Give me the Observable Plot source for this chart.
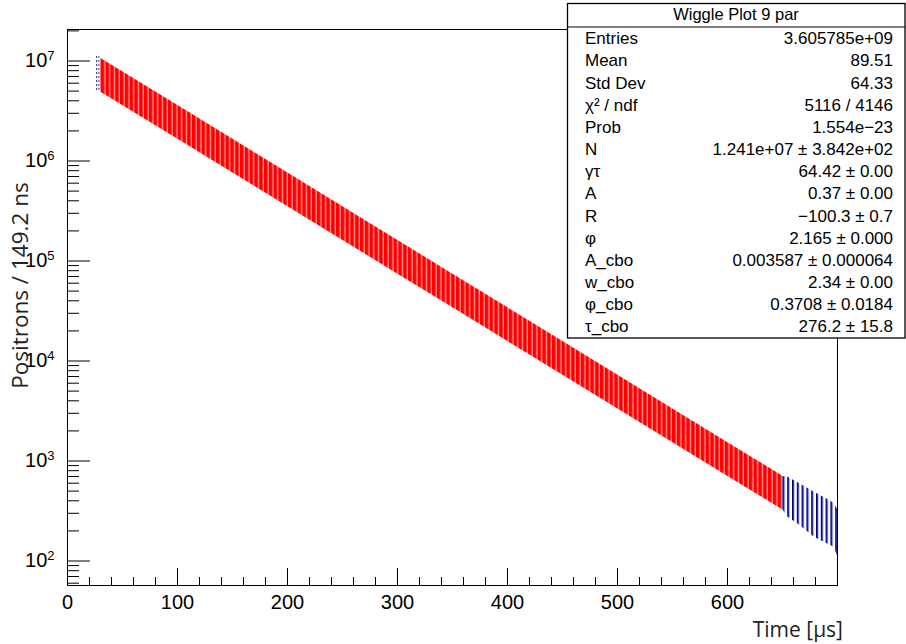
<!DOCTYPE html>
<html><head><meta charset="utf-8">
<script src="https://cdn.jsdelivr.net/npm/d3@7"></script>
<script src="https://cdn.jsdelivr.net/npm/@observablehq/plot@0.6"></script>
<style>html,body{margin:0;padding:0;background:#fff;}</style>
</head><body><div id="chart"></div>
<script>
// ---- data ----
// fitted wiggle function band (upper = peaks, lower = troughs)
const fitTime = [30, 100, 150, 200, 250, 300, 350, 400, 450, 500, 550, 600, 650];
const fitHigh = [1.067e7, 3.60e6, 1.657e6, 7.63e5, 3.51e5, 1.615e5, 7.43e4, 3.42e4, 1.574e4, 7243, 3329, 1532, 707];
const fitLow  = [4.91e6, 1.656e6, 7.62e5, 3.51e5, 1.614e5, 7.43e4, 3.42e4, 1.573e4, 7240, 3331, 1531, 704, 325];
// histogram outside the fit range
const earlyTime = [26, 30];
const earlyHigh = [1.13e7, 1.10e7];
const earlyLow  = [4.9e6, 4.85e6];
const tailTime = [650, 655, 665, 679, 690, 697, 700];
const tailHigh = [700, 689, 600, 488, 420, 376, 330];
const tailLow  = [330, 274, 230, 173, 150, 137, 113];
// axes
const xMajor = [0, 100, 200, 300, 400, 500, 600, 700];
const xLabels = [0, 100, 200, 300, 400, 500, 600];
const xMinor = [20,40,60,80,120,140,160,180,220,240,260,280,320,340,360,380,420,440,460,480,520,540,560,580,620,640,660,680];
const yMajor = [1e2, 1e3, 1e4, 1e5, 1e6, 1e7];
const yMinorMantissa = [2, 3, 4, 5, 6, 7, 8, 9];
const yMinorDecades = [1e1, 1e2, 1e3, 1e4, 1e5, 1e6, 1e7];
const yMinor = yMinorDecades.flatMap(d => yMinorMantissa.map(m => m * d)).filter(v => v >= 57 && v <= 2.06e7);
// stats box
const statsTitle = "Wiggle Plot 9 par";
const statLabels = ["Entries", "Mean", "Std Dev", "χ² / ndf", "Prob", "N", "γτ", "A", "R", "φ", "A_cbo", "w_cbo", "φ_cbo", "τ_cbo"];
const statValues = ["3.605785e+09", "89.51", "64.33", "5116 / 4146", "1.554e−23", "1.241e+07 ± 3.842e+02", "64.42 ± 0.00", "0.37 ± 0.00", "−100.3 ± 0.7", "2.165 ± 0.000", "0.003587 ± 0.000064", "2.34 ± 0.00", "0.3708 ± 0.0184", "276.2 ± 15.8"];
const xTitle = "Time [μs]";
const yTitle = "Positrons / 149.2 ns";

const rows = (T, H, L) => T.map((t, i) => ({t, hi: H[i], lo: L[i]}));
const fitRows = rows(fitTime, fitHigh, fitLow);
const earlyRows = rows(earlyTime, earlyHigh, earlyLow);
const tailRows = rows(tailTime, tailHigh, tailLow);

const W = 906, H = 644;
const plot = Plot.plot({
  width: W, height: H,
  marginLeft: 67, marginRight: 69, marginTop: 29, marginBottom: 59,
  x: {domain: [0, 700]},
  y: {type: "log", domain: [56.9, 2.065e7]},
  style: {fontFamily: "'Liberation Sans', Arial, sans-serif", background: "white", color: "black"},
  marks: [
    Plot.areaY(earlyRows, {x: "t", y1: "lo", y2: "hi", fill: "url(#dataStripesThin)"}),
    Plot.areaY(tailRows, {x: "t", y1: "lo", y2: "hi", fill: "url(#dataStripes)"}),
    Plot.areaY(fitRows, {x: "t", y1: "lo", y2: "hi", fill: "url(#fitStripes)"}),
    Plot.axisX(xMajor, {tickSize: -17, fill: "none", label: null}),
    Plot.axisX(xMinor, {tickSize: -8, fill: "none", label: null}),
    Plot.axisX(xLabels, {tickSize: 0, tickPadding: 9, tickFormat: d => String(d), fontSize: 20, label: null}),
    Plot.axisY(yMajor, {tickSize: -23, fill: "none", label: null}),
    Plot.axisY(yMinor, {tickSize: -12, fill: "none", label: null}),
    Plot.axisY(yMajor, {tickSize: 0, tickPadding: 13, tickFormat: d => "10^" + Math.round(Math.log10(d)), fontSize: 20, label: null}),
    Plot.frame({stroke: "black", strokeWidth: 1})
  ]
});
document.getElementById("chart").appendChild(plot);

const svg = d3.select(plot);
// stripe patterns (style only)
const defs = svg.insert("defs", ":first-child");
const p1 = defs.append("pattern").attr("id", "fitStripes").attr("patternUnits", "userSpaceOnUse")
  .attr("width", 4.8).attr("height", 20);
p1.append("rect").attr("width", 4.8).attr("height", 20).attr("fill", "#ff9a9a");
p1.append("rect").attr("width", 3.5).attr("height", 20).attr("fill", "#ff0000");
const p2 = defs.append("pattern").attr("id", "dataStripes").attr("patternUnits", "userSpaceOnUse")
  .attr("width", 4.8).attr("height", 20);
p2.append("rect").attr("width", 4.8).attr("height", 20).attr("fill", "#ffffff");
p2.append("rect").attr("width", 2.4).attr("height", 20).attr("fill", "#8c8cc4");
p2.append("rect").attr("width", 1.6).attr("height", 20).attr("fill", "#000080");
const p3 = defs.append("pattern").attr("id", "dataStripesThin").attr("patternUnits", "userSpaceOnUse")
  .attr("width", 2.4).attr("height", 4);
p3.append("rect").attr("width", 2.4).attr("height", 4).attr("fill", "#ffffff");
p3.append("rect").attr("width", 1).attr("height", 2).attr("fill", "#3030a0");

// superscript exponents in y tick labels
svg.selectAll('g[aria-label="y-axis tick label"] text').each(function() {
  const s = this.textContent;
  if (!s.includes("^")) return;
  const [base, exp] = s.split("^");
  const t = d3.select(this);
  t.text(null);
  t.append("tspan").text(base);
  t.append("tspan").attr("dy", -7).attr("font-size", 13).text(exp);
});

// axis titles
svg.append("text").attr("transform", "translate(28,285.5) rotate(-90)")
  .attr("text-anchor", "middle").attr("font-family", "'Open Sans', sans-serif").attr("font-size", 22.5)
  .attr("fill", "#222").text(yTitle);
svg.append("text").attr("x", 843).attr("y", 637).attr("text-anchor", "end")
  .attr("font-family", "'Open Sans', sans-serif").attr("font-size", 21).attr("fill", "#222").text(xTitle);

// stats box
const box = svg.append("g").attr("font-family", "'Liberation Sans', Arial, sans-serif").attr("fill", "black");
box.append("rect").attr("x", 567.5).attr("y", 3.5).attr("width", 337.5).attr("height", 334.5)
  .attr("fill", "white").attr("stroke", "black").attr("stroke-width", 1.3);
box.append("line").attr("x1", 567.5).attr("x2", 905).attr("y1", 27).attr("y2", 27).attr("stroke", "black").attr("stroke-width", 1);
box.append("text").attr("x", 736).attr("y", 19.5).attr("text-anchor", "middle").attr("font-size", 16.5).text(statsTitle);
statLabels.forEach((lab, i) => {
  const y = 44.3 + 22.15 * i;
  box.append("text").attr("x", 585).attr("y", y).attr("text-anchor", "start").attr("font-size", 17).text(lab);
  box.append("text").attr("x", 893).attr("y", y).attr("text-anchor", "end").attr("font-size", 17).text(statValues[i]);
});
</script></body></html>
